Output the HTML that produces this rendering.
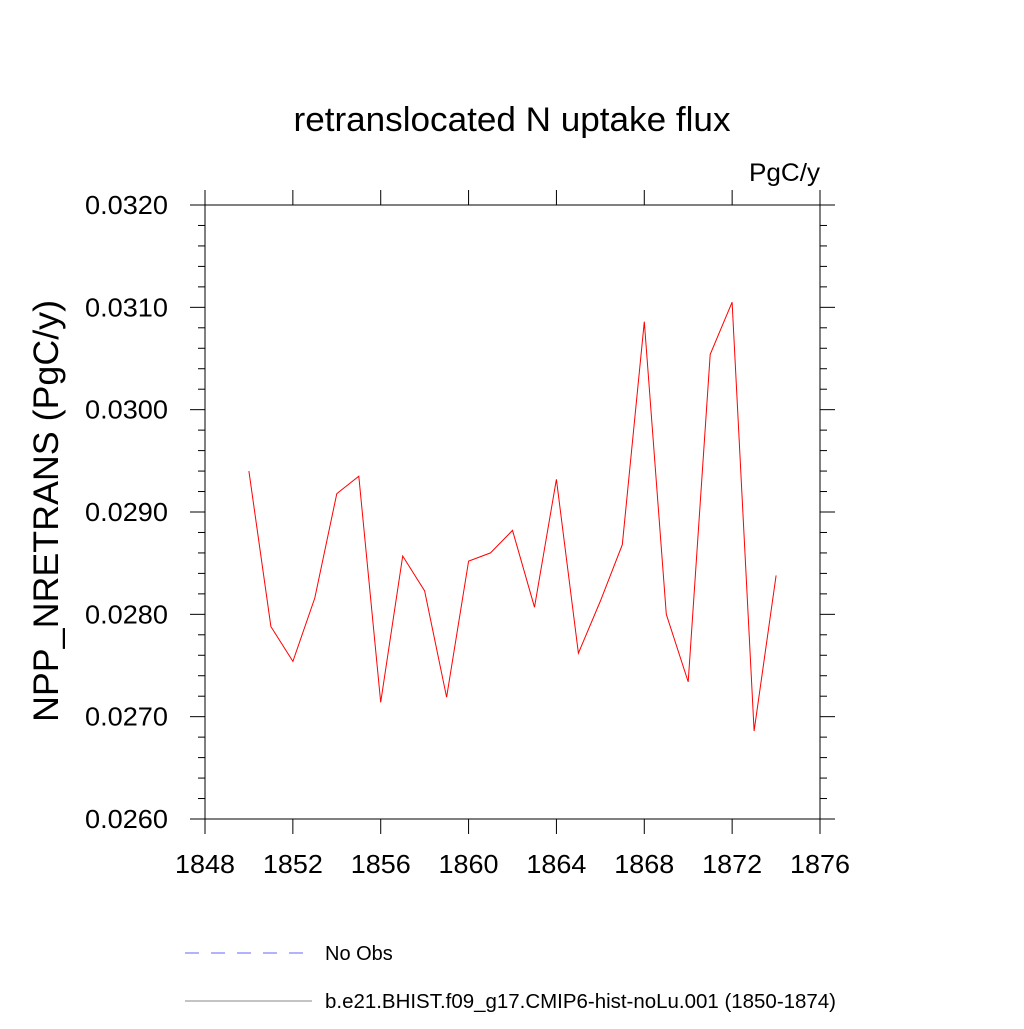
<!DOCTYPE html>
<html><head><meta charset="utf-8"><style>
body{margin:0;background:#fff}
svg text{font-family:"Liberation Sans",sans-serif;fill:#000}
</style></head><body>
<svg id="chart" width="1024" height="1024" viewBox="0 0 1024 1024" xmlns="http://www.w3.org/2000/svg">
<rect width="1024" height="1024" fill="#fff"/>
<text x="512" y="131" font-size="34" text-anchor="middle" textLength="437" lengthAdjust="spacingAndGlyphs">retranslocated N uptake flux</text>
<text x="820" y="181" font-size="25" text-anchor="end" textLength="71" lengthAdjust="spacingAndGlyphs">PgC/y</text>
<text transform="translate(58,511) rotate(-90)" font-size="35" text-anchor="middle" textLength="422" lengthAdjust="spacingAndGlyphs">NPP_NRETRANS  (PgC/y)</text>
<g id="axes"></g>
<g id="series"></g>
<g>
<line x1="185" y1="953" x2="312" y2="953" stroke="#6666ff" stroke-width="1" stroke-dasharray="14,12"/>
<text x="325" y="960" font-size="20">No Obs</text>
<line x1="185" y1="1001" x2="312" y2="1001" stroke="#888" stroke-width="1"/>
<text x="325" y="1008" font-size="20" textLength="511" lengthAdjust="spacingAndGlyphs">b.e21.BHIST.f09_g17.CMIP6-hist-noLu.001 (1850-1874)</text>
</g>
</svg>
<script>
const years=[1850,1851,1852,1853,1854,1855,1856,1857,1858,1859,1860,1861,1862,1863,1864,1865,1866,1867,1868,1869,1870,1871,1872,1873,1874];
const values=[0.02940,0.02788,0.02754,0.02816,0.02918,0.02935,0.02714,0.02857,0.02823,0.02719,0.02852,0.02860,0.02882,0.02807,0.02932,0.02762,0.02813,0.02868,0.03086,0.02800,0.02734,0.03054,0.03105,0.02686,0.02838];
const xTicks=[1848,1852,1856,1860,1864,1868,1872,1876];
const yTicks=[0.0260,0.0270,0.0280,0.0290,0.0300,0.0310,0.0320];
const NS="http://www.w3.org/2000/svg";
const L=205,R=820,T=205,B=819;
const xMin=1848,xMax=1876,yMin=0.026,yMax=0.032;
function xs(v){return L+(v-xMin)/(xMax-xMin)*(R-L);}
function ys(v){return B-(v-yMin)/(yMax-yMin)*(B-T);}
function mk(tag,attrs,parent){const e=document.createElementNS(NS,tag);for(const k in attrs)e.setAttribute(k,attrs[k]);parent.appendChild(e);return e;}
const ax=document.getElementById('axes');
const frame=mk('rect',{x:L,y:T,width:R-L,height:B-T,fill:'none',stroke:'#000','stroke-width':1},ax);


xTicks.forEach(v=>{
  const x=xs(v);
  const t1=mk('line',{x1:x,y1:B,x2:x,y2:B+15,stroke:'#000'},ax);
  
  
  const t2=mk('line',{x1:x,y1:T,x2:x,y2:T-15,stroke:'#000'},ax);
  
  
  const t=mk('text',{x:x,y:B+54,'font-size':26,'text-anchor':'middle',textLength:60,lengthAdjust:'spacingAndGlyphs'},ax);t.textContent=v;
  
  
});
for(let i=0;i<=30;i++){
  const v=yMin+i*0.0002;const y=ys(v);const major=i%5===0;const len=major?15:7;
  const t1=mk('line',{x1:L,y1:y,x2:L-len,y2:y,stroke:'#000'},ax);
  
  
  const t2=mk('line',{x1:R,y1:y,x2:R+len,y2:y,stroke:'#000'},ax);
  
  
}
yTicks.forEach(v=>{
  const t=mk('text',{x:L-37,y:ys(v)+9,'font-size':26,'text-anchor':'end',textLength:83,lengthAdjust:'spacingAndGlyphs'},ax);t.textContent=v.toFixed(4);
  
  
});
const sg=document.getElementById('series');
const pts=years.map((y,i)=>xs(y).toFixed(1)+','+ys(values[i]).toFixed(1)).join(' ');
const pl=mk('polyline',{points:pts,fill:'none',stroke:'#ff0000','stroke-width':1},sg);


</script>
</body></html>
